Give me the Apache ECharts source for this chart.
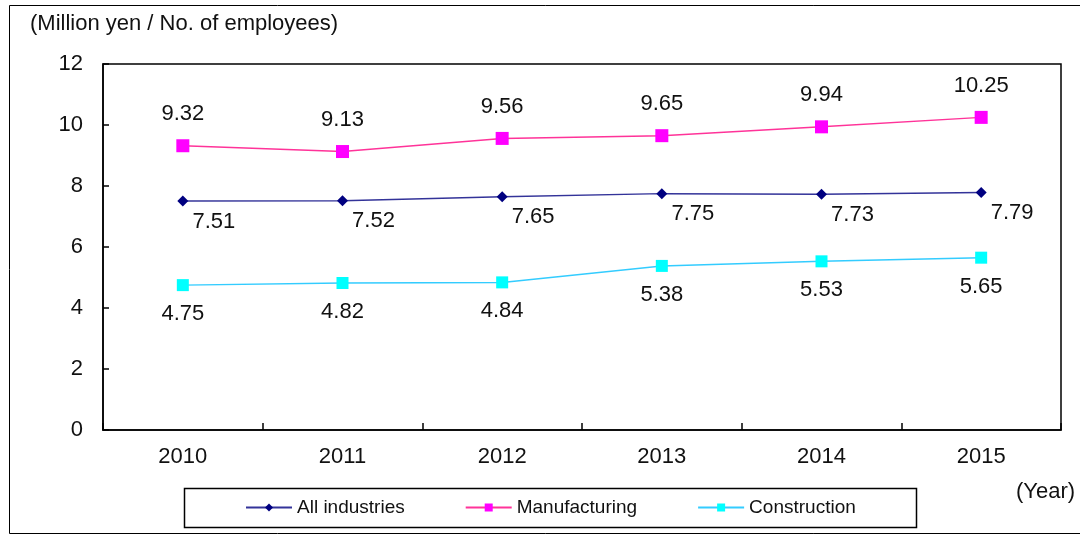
<!DOCTYPE html>
<html>
<head>
<meta charset="utf-8">
<script src="https://cdn.jsdelivr.net/npm/echarts@6/dist/echarts.min.js"></script>
<style>
  html, body { margin: 0; padding: 0; background: #fff; }
  #chart { width: 1080px; height: 536px; }
</style>
</head>
<body>
<div id="chart"></div>
<script>
  // data
  const years = ['2010', '2011', '2012', '2013', '2014', '2015'];
  const allIndustries = [7.51, 7.52, 7.65, 7.75, 7.73, 7.79];
  const manufacturing = [9.32, 9.13, 9.56, 9.65, 9.94, 10.25];
  const construction = [4.75, 4.82, 4.84, 5.38, 5.53, 5.65];

  const font = 'Arial, "Liberation Sans", sans-serif';
  const myChart = echarts.init(document.getElementById('chart'));

  const option = {
    backgroundColor: '#fff',
    animation: false,
    textStyle: { fontFamily: font },
    graphic: [
      // outer frame
      { type: 'rect', shape: { x: 9.5, y: 5.5, width: 1075, height: 528 },
        style: { fill: 'none', stroke: '#000', lineWidth: 1 } },
      // legend box
      { type: 'rect', shape: { x: 184.5, y: 488.5, width: 732, height: 39 },
        style: { fill: 'none', stroke: '#000', lineWidth: 1.5 } },
      { type: 'text', left: 30, top: 13,
        style: { text: '(Million yen / No. of employees)', font: '22px ' + font, fill: '#111' } },
      { type: 'text', left: 1016, top: 481,
        style: { text: '(Year)', font: '22px ' + font, fill: '#111' } }
    ],
    legend: {
      top: 498,
      left: 245,
      padding: 0,
      itemWidth: 46,
      itemHeight: 10,
      itemGap: 60,
      textStyle: { fontSize: 19, color: '#111', fontFamily: font },
      data: ['All industries', 'Manufacturing', 'Construction']
    },
    grid: {
      left: 103,
      top: 64,
      right: 19,
      bottom: 106,
      show: true,
      borderColor: '#000',
      borderWidth: 1.5
    },
    xAxis: {
      type: 'category',
      data: years,
      boundaryGap: true,
      axisLine: { lineStyle: { color: '#000', width: 1.5 } },
      axisTick: { show: true, interval: 0, inside: true, length: 7, lineStyle: { color: '#000', width: 1.5 } },
      axisLabel: { fontSize: 22, color: '#111', margin: 16 },
      splitLine: { show: false }
    },
    yAxis: {
      type: 'value',
      min: 0,
      max: 12,
      interval: 2,
      axisLine: { show: true, lineStyle: { color: '#000', width: 1.5 } },
      axisTick: { show: true, inside: true, length: 6, lineStyle: { color: '#000', width: 1.5 } },
      axisLabel: { fontSize: 22, color: '#111', margin: 20 },
      splitLine: { show: false }
    },
    series: [
      {
        name: 'All industries',
        type: 'line',
        data: allIndustries,
        symbol: 'diamond',
        symbolSize: 11,
        itemStyle: { color: '#000080' },
        lineStyle: { color: '#333399', width: 1.5 },
        label: {
          show: true, position: 'bottom', distance: 4, offset: [31, 0],
          fontSize: 22, color: '#111', formatter: (p) => p.value.toFixed(2)
        }
      },
      {
        name: 'Manufacturing',
        type: 'line',
        data: manufacturing,
        symbol: 'rect',
        symbolSize: 13,
        itemStyle: { color: '#FF00FF' },
        lineStyle: { color: '#FF3399', width: 1.5 },
        label: {
          show: true, position: 'top', distance: 14,
          fontSize: 22, color: '#111', formatter: (p) => p.value.toFixed(2)
        }
      },
      {
        name: 'Construction',
        type: 'line',
        data: construction,
        symbol: 'rect',
        symbolSize: 12,
        itemStyle: { color: '#00FFFF' },
        lineStyle: { color: '#33CCFF', width: 1.5 },
        label: {
          show: true, position: 'bottom', distance: 12,
          fontSize: 22, color: '#111', formatter: (p) => p.value.toFixed(2)
        }
      }
    ]
  };

  myChart.setOption(option);
  window.addEventListener('resize', function () { myChart.resize() });
</script>
</body>
</html>
